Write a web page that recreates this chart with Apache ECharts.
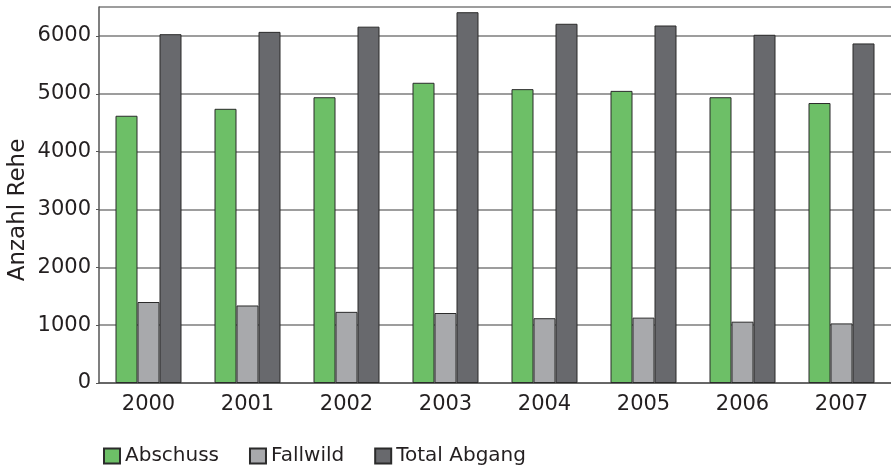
<!DOCTYPE html>
<html>
<head>
<meta charset="utf-8">
<script src="https://cdn.jsdelivr.net/npm/echarts@6/dist/echarts.min.js"></script>
<style>html,body{margin:0;padding:0;background:#fff;}#c{width:891px;height:468px;}</style>
</head>
<body>
<div id="c"></div>
<script>
const years = ['2000','2001','2002','2003','2004','2005','2006','2007'];
const abschuss = [4620, 4740, 4940, 5190, 5080, 5050, 4940, 4840];
const fallwild = [1400, 1340, 1230, 1210, 1120, 1130, 1060, 1030];
const totalAbgang = [6030, 6070, 6160, 6410, 6210, 6180, 6020, 5870];
const yTicks = [0, 1000, 2000, 3000, 4000, 5000, 6000];
const yTitle = 'Anzahl Rehe';

const font = 'DejaVu Sans, sans-serif';
const txt = '#231f20';
const chart = echarts.init(document.getElementById('c'), null, {renderer: 'canvas'});
function bar(name, data, color) {
  return {
    name, type: 'bar', data,
    barWidth: 22, barGap: '0%',
    itemStyle: {color, borderColor: '#2b2b2b', borderWidth: 1},
    emphasis: {disabled: true}
  };
}
chart.setOption({
  animation: false,
  grid: {left: 99, top: 7, width: 800, height: 376, containLabel: false},
  legend: {
    left: 98, top: 441, itemWidth: 16, itemHeight: 15, itemGap: 30,
    icon: 'rect',
    textStyle: {fontFamily: font, fontSize: 20, color: txt},
    data: ['Abschuss', 'Fallwild', 'Total Abgang']
  },
  graphic: [{
    type: 'text', x: 30, y: 210, rotation: Math.PI / 2,
    style: {text: yTitle, fontFamily: font, fontSize: 23, fill: txt,
      textAlign: 'center', textVerticalAlign: 'bottom'}
  }],
  xAxis: {
    type: 'category', data: years,
    axisLine: {lineStyle: {color: '#555', width: 1.5}},
    axisTick: {length: 5, lineStyle: {color: '#555'}},
    axisLabel: {fontFamily: font, fontSize: 21, color: txt, margin: 11}
  },
  yAxis: {
    type: 'value', min: 0, max: 6500, interval: 1000,
    axisLine: {show: true, lineStyle: {color: '#555', width: 1.5}},
    axisTick: {show: true, length: 3, lineStyle: {color: '#555'}},
    axisLabel: {fontFamily: font, fontSize: 21, color: txt, margin: 8, showMaxLabel: false,
      formatter: v => yTicks.includes(v) ? String(v) : ''},
    splitLine: {lineStyle: {color: '#7d7d7d', width: 1.5}}
  },
  series: [
    bar('Abschuss', abschuss, '#6dbf67'),
    bar('Fallwild', fallwild, '#a8a9ac'),
    bar('Total Abgang', totalAbgang, '#68696d')
  ]
});
</script>
</body>
</html>
